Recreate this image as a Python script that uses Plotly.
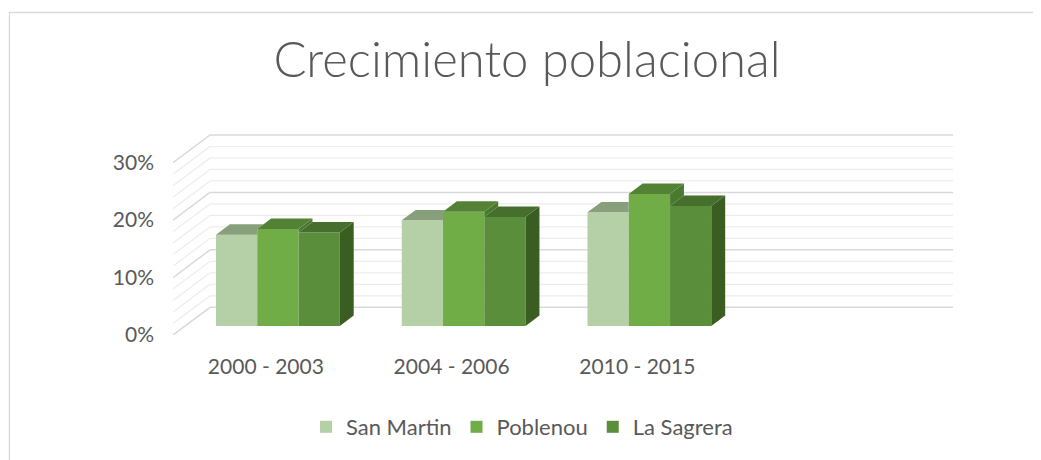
import plotly.graph_objects as go

# ---------------- data ----------------
categories = ["2000 - 2003", "2004 - 2006", "2010 - 2015"]
series_names = ["San Martin", "Poblenou", "La Sagrera"]
san_martin = [15.9, 18.4, 19.8]
poblenou = [16.9, 19.9, 23.0]
la_sagrera = [16.3, 19.0, 20.9]
y_tick_values = [0, 10, 20, 30]
y_tick_labels = ["0%", "10%", "20%", "30%"]
grid_major = [0, 10, 20, 30]
grid_minor = [2, 4, 6, 8, 12, 14, 16, 18, 22, 24, 26, 28]

# ---------------- style ----------------
front_colors = ["#B5CFA7", "#70AD47", "#5B8E3A"]
top_colors = ["#889F7C", "#548235", "#466E2C"]
side_colors = ["#7E9773", "#4A7A2E", "#3A5D22"]
text_color = "#595959"
FONT = "Lato"

W, H = 1041, 460
OFF = 8                     # page body margin of the html page
N_SLOTS = 4                 # the chart reserves an empty fourth slot
PX_SLOT = 185.7
PX_PCT = 5.743
DX = 37.0 / PX_SLOT         # full wall depth in x (slot units)
DY = 27.7 / PX_PCT          # full wall depth in y (percent units)
F0, F1 = 0.325, 0.70        # depth range occupied by the bars
GAP = 1.5                   # gap width (in bar widths)
XMAX = N_SLOTS + DX
YMAX = 35.0

left = 173 - OFF
right = W - (left + XMAX * PX_SLOT)
bottom = H - (335 - OFF)
top = (335 - OFF) - YMAX * PX_PCT

series_values = [san_martin, poblenou, la_sagrera]
w = 1.0 / (len(series_names) + GAP)
d = (F1 - F0) * DX
e = (F1 - F0) * DY
k = e / d
base = F0 * DY

fig = go.Figure()

# front faces (bars)
for i, (name, vals) in enumerate(zip(series_names, series_values)):
    xs = [g + (GAP / 2 + i + 0.5) * w + F0 * DX for g in range(len(categories))]
    fig.add_trace(go.Bar(
        x=xs, y=vals, base=base, width=w, name=name,
        marker=dict(color=front_colors[i], line=dict(width=0)),
        hoverinfo="skip",
    ))

# top and side faces, only their visible parts
for g in range(len(categories)):
    for i in range(len(series_names)):
        xl = g + (GAP / 2 + i) * w + F0 * DX
        xr = xl + w
        h1 = base + series_values[i][g]
        last = i == len(series_names) - 1
        h2 = None if last else base + series_values[i + 1][g]
        # side face
        if last:
            sx = [xr, xr, xr + d, xr + d, xr]
            sy = [base, h1, h1 + e, base + e, base]
        elif h1 > h2:
            sx = [xr, xr, xr + d, xr + d, xr]
            sy = [h2, h1, h1 + e, h2 + e, h2]
        else:
            sx = None
        if sx:
            fig.add_trace(go.Scatter(x=sx, y=sy, fill="toself", mode="lines",
                                     line=dict(width=0), fillcolor=side_colors[i],
                                     showlegend=False, hoverinfo="skip"))
        # top face
        if last or h2 <= h1:
            tx = [xl, xr, xr + d, xl + d, xl]
            ty = [h1, h1, h1 + e, h1 + e, h1]
        elif h2 >= h1 + e:
            tx = [xl, xr, xr, xl + d, xl]
            ty = [h1, h1, h1 + e, h1 + e, h1]
        else:
            xc = xr + (h1 + e - h2) / k
            tx = [xl, xr, xr, xc, xl + d, xl]
            ty = [h1, h1, h2, h1 + e, h1 + e, h1]
        fig.add_trace(go.Scatter(x=tx, y=ty, fill="toself", mode="lines",
                                 line=dict(width=0), fillcolor=top_colors[i],
                                 showlegend=False, hoverinfo="skip"))

# walls (gridlines) drawn beneath the bars
shapes = []
for vals, col, lw in ((grid_minor, "#ECECEC", 1.2), (grid_major, "#D9D9D9", 1.5)):
    for v in vals:
        shapes.append(dict(type="line", xref="x", yref="y", x0=0, y0=v, x1=DX, y1=v + DY,
                           line=dict(color=col, width=lw), layer="below"))
        shapes.append(dict(type="line", xref="x", yref="y", x0=DX, y0=v + DY, x1=XMAX, y1=v + DY,
                           line=dict(color=col, width=lw), layer="below"))

# chart border
pw = XMAX * PX_SLOT
ph = YMAX * PX_PCT
y0px = 335 - OFF
shapes.append(dict(type="rect", xref="paper", yref="paper",
                   x0=(9.5 - OFF - left) / pw, x1=(1040.5 - OFF - left) / pw,
                   y0=(y0px - 470) / ph, y1=(y0px - (12.5 - OFF)) / ph,
                   line=dict(color="#D9D9D9", width=1.3), fillcolor="rgba(0,0,0,0)"))

fig.update_layout(
    width=W, height=H,
    margin=dict(l=left, r=right, t=top, b=bottom, pad=0),
    paper_bgcolor="white", plot_bgcolor="white",
    barmode="overlay",
    shapes=shapes,
    showlegend=True,
    font=dict(family=FONT, color=text_color, size=21),
    title=dict(text="Crecimiento poblacional", x=(527 - OFF) / W, xref="container", xanchor="center",
               y=1 - (61.5 - OFF - 1.5) / H, yref="container", yanchor="middle",
               font=dict(family=FONT, size=49, color=text_color, weight=300)),
    legend=dict(orientation="h", xref="container", yref="container",
                x=(522 - OFF) / W, xanchor="center", y=1 - (427 - OFF) / H, yanchor="middle",
                font=dict(family=FONT, size=22, color=text_color),
                itemwidth=30, bgcolor="rgba(0,0,0,0)"),
    xaxis=dict(range=[0, XMAX], showgrid=False, zeroline=False, showline=False,
               tickmode="array", tickvals=[g + 0.5 for g in range(len(categories))],
               ticktext=categories, ticks="", ticklabelstandoff=17, fixedrange=True),
    yaxis=dict(range=[0, YMAX], showgrid=False, zeroline=False, showline=False,
               tickmode="array", tickvals=y_tick_values, ticktext=y_tick_labels,
               ticks="", ticklabelstandoff=18, fixedrange=True),
)

fig.write_html("out.html")
